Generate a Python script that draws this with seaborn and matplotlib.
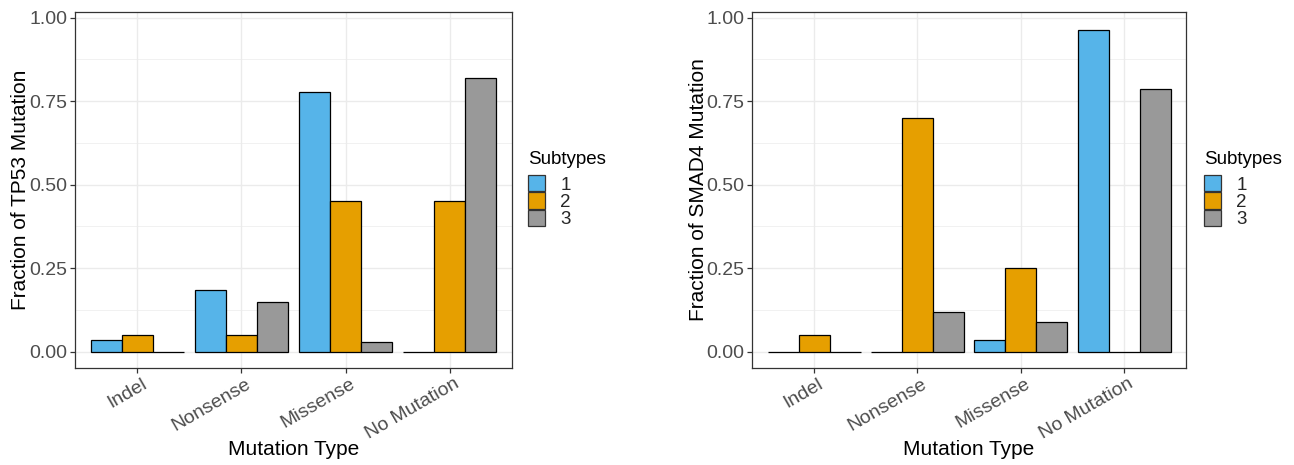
import matplotlib
matplotlib.use("Agg")
import matplotlib.pyplot as plt
import matplotlib.transforms as mtransforms
import seaborn as sns
import pandas as pd
from matplotlib.patches import Patch
from matplotlib.ticker import MultipleLocator

categories = ["Indel", "Nonsense", "Missense", "No Mutation"]
subtypes = ["1", "2", "3"]
tp53_s1 = [0.036, 0.185, 0.778, 0.0]
tp53_s2 = [0.05, 0.05, 0.45, 0.45]
tp53_s3 = [0.0, 0.15, 0.03, 0.82]
smad4_s1 = [0.0, 0.0, 0.036, 0.964]
smad4_s2 = [0.05, 0.70, 0.25, 0.0]
smad4_s3 = [0.0, 0.12, 0.09, 0.786]
colors = ["#56B4E9", "#E69F00", "#999999"]
yticks = [0.0, 0.25, 0.5, 0.75, 1.0]
ytick_labels = ["0.00", "0.25", "0.50", "0.75", "1.00"]


def long_df(s1, s2, s3):
    rows = []
    for st, vals in zip(subtypes, [s1, s2, s3]):
        for c, v in zip(categories, vals):
            rows.append({"Mutation Type": c, "Fraction": v, "Subtypes": st})
    return pd.DataFrame(rows)


sns.set_style("white")
plt.rcParams["font.family"] = ["Liberation Sans", "DejaVu Sans"]

W, H = 1294, 465
fig = plt.figure(figsize=(W / 100, H / 100), dpi=100)
ax1 = fig.add_axes([75 / W, 1 - 368 / H, (512 - 75) / W, (368 - 12) / H])
ax2 = fig.add_axes([752 / W, 1 - 368 / H, (1186 - 752) / W, (368 - 12) / H])

panels = [
    (ax1, long_df(tp53_s1, tp53_s2, tp53_s3), "Fraction of TP53 Mutation", 528, 437),
    (ax2, long_df(smad4_s1, smad4_s2, smad4_s3), "Fraction of SMAD4 Mutation", 1204, 434),
]

shift = mtransforms.ScaledTranslation(4 / 100, 0, fig.dpi_scale_trans)

for ax, df, ylabel, legx, axw in panels:
    ax.set_axisbelow(True)
    sns.barplot(data=df, x="Mutation Type", y="Fraction", hue="Subtypes",
                order=categories, hue_order=subtypes, palette=colors,
                saturation=1, width=0.9, gap=0, edgecolor="black",
                linewidth=0.9, errorbar=None, ax=ax, legend=False)
    ax.set_ylim(-0.049, 1.017)
    ax.set_xlim(-0.6, 3.6)
    ax.set_yticks(yticks)
    ax.set_yticklabels(ytick_labels)
    ax.yaxis.set_minor_locator(MultipleLocator(0.125))
    ax.grid(True, which="major", color="#EBEBEB", linewidth=1.0)
    ax.grid(True, which="minor", axis="y", color="#EBEBEB", linewidth=0.5)
    for sp in ax.spines.values():
        sp.set_visible(True)
        sp.set_color("#333333")
        sp.set_linewidth(0.9)
    ax.tick_params(axis="both", which="major", length=3.6, width=0.9,
                   color="#333333", labelcolor="#4D4D4D", labelsize=14,
                   bottom=True, left=True, pad=1.8)
    ax.tick_params(axis="both", which="minor", length=0)
    for lab in ax.get_xticklabels():
        lab.set_rotation(30)
        lab.set_ha("right")
        lab.set_rotation_mode("anchor")
        lab.set_transform(lab.get_transform() + shift)
    ax.set_xlabel("Mutation Type", fontsize=15, color="black", va="center")
    ax.xaxis.set_label_coords(0.5, (368 - 449) / 356)
    ax.set_ylabel(ylabel, fontsize=15, color="black", va="center")
    ax.yaxis.set_label_coords(-54 / axw, 0.5)

    fig.text(legx / W, 1 - 159 / H, "Subtypes", fontsize=13.5,
             color="black", ha="left", va="center")
    handles = [Patch(facecolor=c, edgecolor="#333333", linewidth=0.9, label=s)
               for c, s in zip(colors, subtypes)]
    fig.legend(handles=handles, loc="upper left",
               bbox_to_anchor=(legx / W, 1 - 175 / H), frameon=False,
               fontsize=13.5, handlelength=0.92, handleheight=0.96,
               handletextpad=0.8, labelspacing=-0.07,
               borderpad=0, borderaxespad=0)

fig.savefig("out.png", dpi=100)
